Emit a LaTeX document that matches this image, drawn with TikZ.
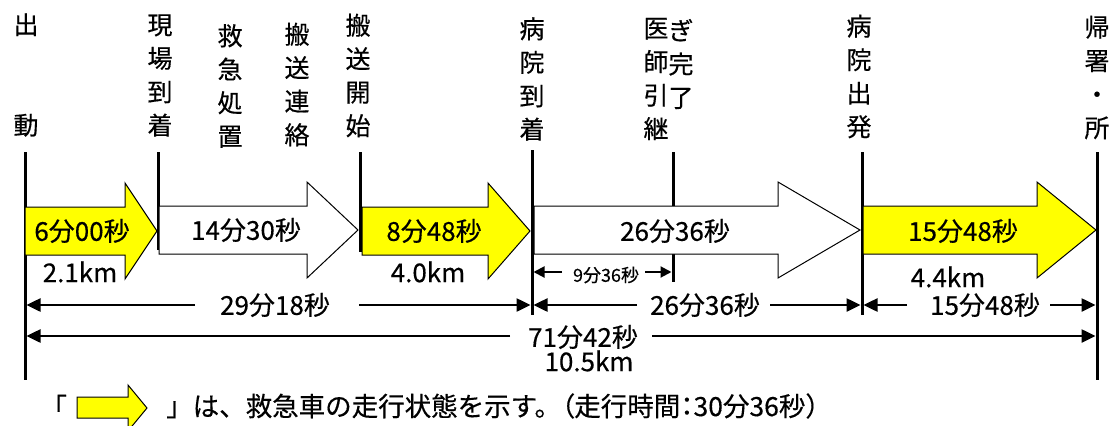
\documentclass[tikz,border=0pt]{standalone}
\usepackage{fontspec}
\setmainfont{Noto Sans CJK JP}[RawFeature={embolden=0.4}]
\newfontfamily\jpprop{Noto Sans CJK JP}[RawFeature={+palt;embolden=0.4}]
\usetikzlibrary{arrows.meta}
\definecolor{ylw}{RGB}{255,255,0}
\begin{document}
\begin{tikzpicture}[x=1pt,y=-1pt,
  vline/.style={line width=3pt},
  ylwblk/.style={fill=ylw,draw=black,line width=1pt,line join=miter},
  whtblk/.style={fill=white,draw=black,line width=1pt,line join=miter},
  vlab/.style={font=\fontsize{25}{33.5}\selectfont,align=center,inner sep=0pt},
  big/.style={font=\fontsize{26}{30}\selectfont,inner sep=0pt},
  leg/.style={font=\fontsize{26.5}{30}\selectfont,inner sep=0pt},
  small/.style={font=\fontsize{18}{20}\selectfont,inner sep=0pt},
  dim/.style={line width=2.5pt,-{Triangle[length=14pt,width=13pt]},shorten >=1.5pt},
  dims/.style={line width=2pt,-{Triangle[length=11pt,width=11pt]},shorten >=1.5pt},
]
\useasboundingbox (0,0) rectangle (1112,426);
\clip (0,0) rectangle (1112,426);

% vertical labels
\node[vlab] (n0) at (26,75) {出\\[67pt]動};
\node[vlab] (n1) at (160,75.5) {現\\場\\到\\着};
\node[vlab] (n2) at (230,86) {救\\急\\処\\置};
\node[vlab] (n3) at (297,84.5) {搬\\送\\連\\絡};
\node[vlab] (n4) at (358,75.5) {搬\\送\\開\\始};
\node[vlab] (n5) at (532,79) {病\\院\\到\\着};
\node[vlab] (n6a) at (656,79) {医\\師\\引\\継};
\node[vlab] (n6b) at (681,64) {ぎ\\完\\了};
\node[vlab] (n7) at (859,76.5) {病\\院\\出\\発};
\node[vlab] (n8) at (1097,77.5) {帰\\署\\・\\所};

% vertical lines
\coordinate (L0t) at (25,152);   \coordinate (L0b) at (25,380);
\coordinate (L1t) at (158,152);  \coordinate (L1b) at (158,250);
\coordinate (L2t) at (360,152);  \coordinate (L2b) at (360,252);
\coordinate (L3t) at (532,150);  \coordinate (L3b) at (532,315);
\coordinate (L4t) at (673,152);  \coordinate (L4b) at (673,282);
\coordinate (L5t) at (862,152);  \coordinate (L5b) at (862,315);
\coordinate (L6t) at (1097,152); \coordinate (L6b) at (1097,380);
\foreach \i in {0,...,6} {\draw[vline] (L\i t) -- (L\i b);}

% block arrows
\draw[ylwblk] (25,207) -- (125,207) -- (125,183) -- (157,231) -- (125,279) -- (125,255) -- (25,255) -- cycle;
\draw[whtblk] (159,206) -- (307,206) -- (307,182) -- (358,230) -- (307,278) -- (307,254) -- (159,254) -- cycle;
\draw[ylwblk] (362,207) -- (488,207) -- (488,183) -- (530,231) -- (488,279) -- (488,255) -- (362,255) -- cycle;
\draw[whtblk] (534,206) -- (778,206) -- (778,182) -- (860,230) -- (778,278) -- (778,254) -- (534,254) -- cycle;
\draw[ylwblk] (863,206) -- (1037,206) -- (1037,182) -- (1096,230) -- (1037,278) -- (1037,254) -- (863,254) -- cycle;

% arrow texts
\node[big] (t1) at (82,231) {6分00秒};
\node[big] (t2) at (246,230) {14分30秒};
\node[big] (t3) at (434,231) {8分48秒};
\node[big] (t4) at (675,231) {26分36秒};
\node[big] (t5) at (963,231) {15分48秒};
\node[big] (k1) at (80,272) {2.1km};
\node[big] (k2) at (428,272) {4.0km};
\node[big] (k3) at (948,277) {4.4km};

% 9分36秒
\node[small] (s1) at (606,275) {9分36秒};
\coordinate (s1l) at (562,272); \coordinate (s1r) at (645,272);
\draw[dims] (s1l) -- (L3b |- s1l);
\draw[dims] (s1r) -- (L4b |- s1r);

% row B
\node[big] (b1) at (275,305) {29分18秒};
\coordinate (b1l) at (195,305); \coordinate (b1r) at (359,305);
\draw[dim] (b1l) -- (L0b |- b1l);
\draw[dim] (b1r) -- (L3b |- b1r);
\node[big] (b2) at (705,305) {26分36秒};
\coordinate (b2l) at (637,305); \coordinate (b2r) at (770,305);
\draw[dim] (b2l) -- (L3b |- b2l);
\draw[dim] (b2r) -- (L5b |- b2r);
\node[big] (b3) at (985,305) {15分48秒};
\coordinate (b3l) at (907,305); \coordinate (b3r) at (1050,305);
\draw[dim] (b3l) -- (L5b |- b3l);
\draw[dim] (b3r) -- (L6b |- b3r);

% row C
\node[big] (c1) at (583,337) {71分42秒};
\coordinate (c1l) at (510,336); \coordinate (c1r) at (652,336);
\draw[dim] (c1l) -- (L0b |- c1l);
\draw[dim] (c1r) -- (L6b |- c1r);
\node[big] (c2) at (589,361) {10.5km};

% legend
\node[leg,anchor=west] (g0) at (53,406) {\jpprop 「};
\draw[ylwblk] (77,397) -- (128,397) -- (128,385) -- (147,408) -- (128,431) -- (128,418) -- (77,418) -- cycle;
\node[leg,anchor=west] (g1) at (166,406) {」は、救急車の走行状態を示す。{\jpprop （}走行時間{\jpprop ：}30分36秒）};
\end{tikzpicture}
\end{document}
